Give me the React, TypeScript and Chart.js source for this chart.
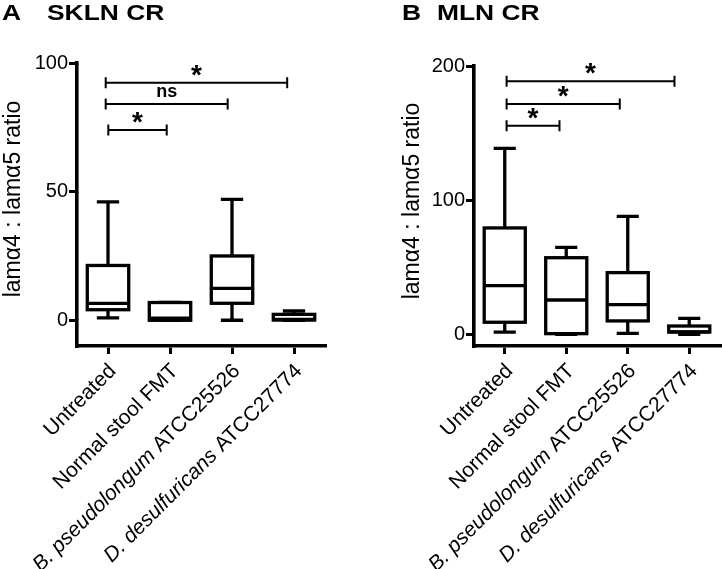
import React, { useEffect, useRef } from 'react';
import { Chart, registerables } from 'chart.js';

Chart.register(...registerables);

// ---------- data ----------
const categories = ['Untreated', 'Normal stool FMT', 'B. pseudolongum ATCC25526', 'D. desulfuricans ATCC27774'];
const italicParts = ['', '', 'B. pseudolongum', 'D. desulfuricans'];
const yAxisTitle = 'lamα4 : lamα5 ratio';

// Panel A: SKLN CR
const sklnMin = [0.9, 0, 0, 0];
const sklnQ1 = [4.1, 0, 6.6, 0.1];
const sklnMedian = [6.6, 0.8, 12.4, 0.3];
const sklnQ3 = [21.3, 6.9, 25.0, 2.3];
const sklnMax = [46.0, 6.9, 47.0, 3.6];
const sklnTicks = [0, 50, 100];
const sklnBracketFrom = [0.005, -0.037, -0.037];
const sklnBracketTo = [0.947, 1.93, 2.89];
const sklnBracketY = [74.0, 84.1, 92.3];
const sklnBracketLabel = ['*', 'ns', '*'];

// Panel B: MLN CR
const mlnMin = [1.7, 0, 0.7, 0];
const mlnQ1 = [9.0, 0.5, 10.0, 1.7];
const mlnMedian = [36.3, 25.6, 22.1, 1.9];
const mlnQ3 = [79.3, 57.1, 46.0, 6.2];
const mlnMax = [138.6, 64.8, 87.9, 11.9];
const mlnTicks = [0, 100, 200];
const mlnBracketFrom = [0.03, 0.03, 0.03];
const mlnBracketTo = [0.89, 1.87, 2.76];
const mlnBracketY = [155.4, 171.7, 188.6];
const mlnBracketLabel = ['*', '*', '*'];

const FONT = '"Liberation Sans", Arial, Helvetica, sans-serif';
const W = 361;
const H = 569;

type PanelProps = {
  letter: string;
  title: string;
  letterX: number;
  titleX: number;
  yTitleX: number;
  yTitleY: number;
  min: number;
  max: number;
  ticks: number[];
  mins: number[];
  q1: number[];
  med: number[];
  q3: number[];
  maxs: number[];
  bFrom: number[];
  bTo: number[];
  bY: number[];
  bLabel: string[];
  padLeft: number;
  padTop: number;
  padRight: number;
  yWidth: number;
  left: number;
};

function Panel(p: PanelProps) {
  const ref = useRef<HTMLCanvasElement | null>(null);
  useEffect(() => {
    const canvas = ref.current;
    if (!canvas) return;

    const boxPlugin = {
      id: 'boxes',
      afterDatasetsDraw(chart: any) {
        const ctx = chart.ctx;
        const yS = chart.scales.y;
        const meta = chart.getDatasetMeta(0);
        ctx.save();
        ctx.strokeStyle = '#000';
        ctx.lineWidth = 3.3;
        ctx.lineCap = 'butt';
        meta.data.forEach((bar: any, i: number) => {
          const cx = bar.x;
          const w = bar.width;
          const capW = w * 0.5;
          const yMax = yS.getPixelForValue(p.maxs[i]);
          const yQ3 = yS.getPixelForValue(p.q3[i]);
          const yMed = yS.getPixelForValue(p.med[i]);
          const yQ1 = yS.getPixelForValue(p.q1[i]);
          const yMin = yS.getPixelForValue(p.mins[i]);
          ctx.beginPath();
          ctx.moveTo(cx, yMax);
          ctx.lineTo(cx, yQ3);
          ctx.moveTo(cx, yQ1);
          ctx.lineTo(cx, yMin);
          ctx.moveTo(cx - capW / 2, yMax);
          ctx.lineTo(cx + capW / 2, yMax);
          ctx.moveTo(cx - capW / 2, yMin);
          ctx.lineTo(cx + capW / 2, yMin);
          ctx.stroke();
          const l = cx - w / 2 + 1.6;
          const r = cx + w / 2 - 1.6;
          ctx.fillStyle = '#fff';
          ctx.fillRect(l, yQ3, r - l, yQ1 - yQ3);
          ctx.strokeRect(l, yQ3, r - l, yQ1 - yQ3);
          ctx.beginPath();
          ctx.moveTo(l, yMed);
          ctx.lineTo(r, yMed);
          ctx.stroke();
        });
        ctx.restore();
      },
    };

    const annoPlugin = {
      id: 'anno',
      afterDraw(chart: any) {
        const ctx = chart.ctx;
        const xS = chart.scales.x;
        const yS = chart.scales.y;
        ctx.save();
        ctx.fillStyle = '#000';
        ctx.strokeStyle = '#000';
        // brackets
        p.bY.forEach((yv, i) => {
          const x1 = xS.getPixelForValue(p.bFrom[i]);
          const x2 = xS.getPixelForValue(p.bTo[i]);
          const y = yS.getPixelForValue(yv);
          ctx.lineWidth = 2;
          ctx.beginPath();
          ctx.moveTo(x1, y);
          ctx.lineTo(x2, y);
          ctx.moveTo(x1, y - 5.5);
          ctx.lineTo(x1, y + 5.5);
          ctx.moveTo(x2, y - 5.5);
          ctx.lineTo(x2, y + 5.5);
          ctx.stroke();
          const mid = (x1 + x2) / 2;
          ctx.textAlign = 'center';
          ctx.textBaseline = 'alphabetic';
          if (p.bLabel[i] === '*') {
            ctx.font = `bold 28px ${FONT}`;
            ctx.fillText('*', mid, y + 1);
          } else {
            ctx.font = `bold 18px ${FONT}`;
            ctx.fillText(p.bLabel[i], mid, y - 6.5);
          }
        });
        // y axis title
        ctx.save();
        ctx.translate(p.yTitleX, p.yTitleY);
        ctx.rotate(-Math.PI / 2);
        ctx.font = `23px ${FONT}`;
        ctx.textAlign = 'center';
        ctx.textBaseline = 'alphabetic';
        ctx.fillText(yAxisTitle, 0, 0);
        ctx.restore();
        // x labels (rotated, mixed italic)
        const fontN = `21px ${FONT}`;
        const fontI = `italic 21px ${FONT}`;
        categories.forEach((lab, i) => {
          const x = xS.getPixelForValue(i);
          const y = xS.top;
          const it = italicParts[i];
          const rest = lab.slice(it.length);
          ctx.save();
          ctx.translate(x + 9, y + 26);
          ctx.rotate(-Math.PI / 4);
          ctx.textAlign = 'left';
          ctx.textBaseline = 'alphabetic';
          ctx.font = fontI;
          const wi = it ? ctx.measureText(it).width : 0;
          ctx.font = fontN;
          const wr = ctx.measureText(rest).width;
          let cx = -(wi + wr);
          if (it) {
            ctx.font = fontI;
            ctx.fillText(it, cx, 0);
            cx += wi;
          }
          ctx.font = fontN;
          ctx.fillText(rest, cx, 0);
          ctx.restore();
        });
        // panel title
        ctx.font = `bold 22px ${FONT}`;
        ctx.textAlign = 'left';
        ctx.textBaseline = 'alphabetic';
        ctx.save();
        ctx.translate(p.letterX, 20);
        ctx.scale(1.2, 1);
        ctx.fillText(p.letter, 0, 0);
        ctx.restore();
        ctx.save();
        ctx.translate(p.titleX, 20);
        ctx.scale(1.2, 1);
        ctx.fillText(p.title, 0, 0);
        ctx.restore();
        ctx.restore();
      },
    };

    const chart = new Chart(canvas, {
      type: 'bar',
      data: {
        labels: categories,
        datasets: [
          {
            data: p.q1.map((v, i) => [v, p.q3[i]]) as any,
            backgroundColor: '#fff',
            borderWidth: 0,
            barPercentage: 0.72,
            categoryPercentage: 1,
          },
        ],
      },
      options: {
        responsive: false,
        animation: false,
        devicePixelRatio: 1,
        layout: { padding: { left: p.padLeft, top: p.padTop, right: p.padRight, bottom: 0 } },
        plugins: {
          legend: { display: false },
          tooltip: { enabled: false },
          title: { display: false },
        },
        scales: {
          x: {
            type: 'category',
            offset: true,
            grid: {
              display: true,
              drawOnChartArea: false,
              drawTicks: true,
              tickLength: 8,
              lineWidth: 3,
              color: '#000',
              offset: false,
            },
            border: { display: true, width: 3.6, color: '#000' },
            ticks: { display: false },
            afterFit: (s: any) => {
              s.height = H - 346;
            },
          },
          y: {
            type: 'linear',
            min: p.min,
            max: p.max,
            grid: {
              display: true,
              drawOnChartArea: false,
              drawTicks: true,
              tickLength: 8,
              lineWidth: 3,
              color: '#000',
            },
            border: { display: true, width: 3.6, color: '#000' },
            ticks: {
              color: '#000',
              font: { family: FONT, size: 20 },
              padding: 1,
            },
            afterBuildTicks: (s: any) => {
              s.ticks = p.ticks.map((v) => ({ value: v }));
            },
            afterFit: (s: any) => {
              s.width = p.yWidth;
            },
          },
        },
      } as any,
      plugins: [boxPlugin, annoPlugin],
    });
    return () => chart.destroy();
  }, []);

  return (
    <canvas
      ref={ref}
      width={W}
      height={H}
      style={{ position: 'absolute', left: p.left, top: 0, width: W, height: H, display: 'block' }}
    />
  );
}

export default function App() {
  return (
    <div style={{ position: 'fixed', left: 0, top: 0, width: 722, height: 569, background: '#fff' }}>
      <Panel
        letter="A"
        title="SKLN CR"
        letterX={2}
        titleX={47}
        yTitleX={20}
        yTitleY={199}
        min={-10}
        max={100}
        ticks={sklnTicks}
        mins={sklnMin}
        q1={sklnQ1}
        med={sklnMedian}
        q3={sklnQ3}
        maxs={sklnMax}
        bFrom={sklnBracketFrom}
        bTo={sklnBracketTo}
        bY={sklnBracketY}
        bLabel={sklnBracketLabel}
        padLeft={0}
        padTop={63}
        padRight={36}
        yWidth={77}
        left={0}
      />
      <Panel
        letter="B"
        title="MLN CR"
        letterX={41}
        titleX={76}
        yTitleX={58}
        yTitleY={201}
        min={-8.7}
        max={200}
        ticks={mlnTicks}
        mins={mlnMin}
        q1={mlnQ1}
        med={mlnMedian}
        q3={mlnQ3}
        maxs={mlnMax}
        bFrom={mlnBracketFrom}
        bTo={mlnBracketTo}
        bY={mlnBracketY}
        bLabel={mlnBracketLabel}
        padLeft={39}
        padTop={66}
        padRight={2}
        yWidth={74}
        left={361}
      />
    </div>
  );
}
